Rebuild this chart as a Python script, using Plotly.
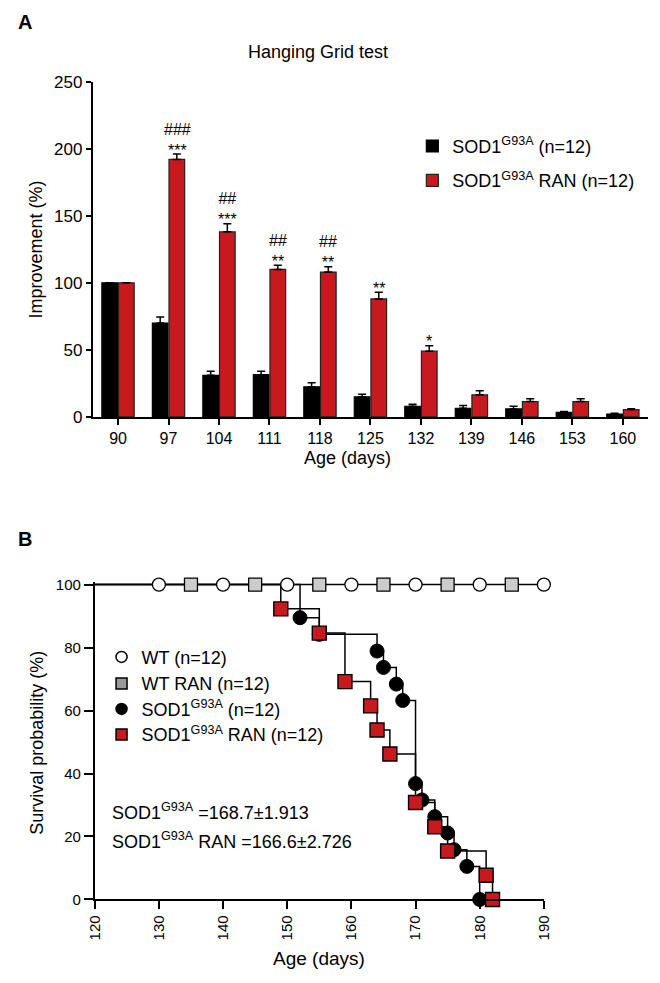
import plotly.graph_objects as go

W, H = 660, 983
FONT = "Liberation Sans, Arial, sans-serif"
RED = "#C8191E"

# ---------------- Panel A data (Hanging grid test) ----------------
ages = ["90", "97", "104", "111", "118", "125", "132", "139", "146", "153", "160"]
sod_mean = [100, 70, 31, 31.5, 22.5, 15, 8, 6.5, 6, 3.5, 2.2]
sod_err = [0, 4.5, 3, 2.5, 3, 2, 1.5, 2, 2, 0.5, 0.5]
ran_mean = [100, 192, 138, 110, 108, 88, 49, 16.5, 11.5, 11.5, 5.5]
ran_err = [0, 4, 6, 3, 4, 5, 4, 3, 2, 2, 0.7]
stars = ["", "***", "***", "**", "**", "**", "*", "", "", "", ""]
hashes = ["", "###", "##", "##", "##", "", "", "", "", "", ""]

# ---------------- Panel B data (Kaplan-Meier survival) ----------------
study_start = 120
wt_censor = [130, 140, 150, 160, 170, 180, 190]
wt_censor_surv = [100, 100, 100, 100, 100, 100, 100]
wtran_censor = [135, 145, 155, 165, 175, 185]
wtran_censor_surv = [100, 100, 100, 100, 100, 100]
sod_days = [152, 155, 164, 165, 167, 168, 170, 171, 173, 175, 176, 178, 180]
sod_surv = [89.5, 84.2, 78.9, 73.7, 68.4, 63.2, 36.8, 31.6, 26.3, 21.1, 15.8, 10.5, 0]
ran_days = [149, 155, 159, 163, 164, 166, 170, 173, 175, 181, 182]
ran_surv = [92.3, 84.6, 69.2, 61.5, 53.8, 46.2, 30.8, 23.1, 15.4, 7.7, 0]


def px(x):
    return x / W


def py(y):
    return 1 - y / H


fig = go.Figure()

# ---- Panel A bars ----
fig.add_trace(go.Bar(
    x=ages, y=sod_mean, name="SOD1<sup>G93A</sup> (n=12)",
    marker=dict(color="black", line=dict(color="black", width=1.2)),
    error_y=dict(type="data", symmetric=False, array=sod_err,
                 arrayminus=[0] * len(sod_err), color="black", thickness=1.5, width=4),
    xaxis="x", yaxis="y", legend="legend",
))
fig.add_trace(go.Bar(
    x=ages, y=ran_mean, name="SOD1<sup>G93A</sup> RAN (n=12)",
    marker=dict(color=RED, line=dict(color="#222222", width=1.2)),
    error_y=dict(type="data", symmetric=False, array=ran_err,
                 arrayminus=[0] * len(ran_err), color="black", thickness=1.5, width=4),
    xaxis="x", yaxis="y", legend="legend2",
))

# ---- Panel B survival ----
fig.add_trace(go.Scatter(
    x=[study_start] + wt_censor, y=[100] + wt_censor_surv, mode="lines",
    line=dict(color="black", width=1.5), showlegend=False, xaxis="x2", yaxis="y2",
))
fig.add_trace(go.Scatter(
    x=[study_start] + sod_days, y=[100] + sod_surv, mode="lines", line_shape="hv",
    line=dict(color="black", width=1.5), showlegend=False, xaxis="x2", yaxis="y2",
))
fig.add_trace(go.Scatter(
    x=[study_start] + ran_days, y=[100] + ran_surv, mode="lines", line_shape="hv",
    line=dict(color="black", width=1.5), showlegend=False, xaxis="x2", yaxis="y2",
))
fig.add_trace(go.Scatter(
    x=wt_censor, y=wt_censor_surv, mode="markers", cliponaxis=False,
    marker=dict(symbol="circle", size=13, color="white", line=dict(color="black", width=1.3)),
    showlegend=False, xaxis="x2", yaxis="y2",
))
fig.add_trace(go.Scatter(
    x=wtran_censor, y=wtran_censor_surv, mode="markers", cliponaxis=False,
    marker=dict(symbol="square", size=13, color="#CCCCCC", line=dict(color="black", width=1.3)),
    showlegend=False, xaxis="x2", yaxis="y2",
))
fig.add_trace(go.Scatter(
    x=sod_days, y=sod_surv, mode="markers", cliponaxis=False,
    marker=dict(symbol="circle", size=14, color="black", line=dict(color="black", width=1)),
    showlegend=False, xaxis="x2", yaxis="y2",
))
fig.add_trace(go.Scatter(
    x=ran_days, y=ran_surv, mode="markers", cliponaxis=False,
    marker=dict(symbol="square", size=14, color=RED, line=dict(color="black", width=1.4)),
    showlegend=False, xaxis="x2", yaxis="y2",
))

# legend-only entries for panel B
leg_entries = [
    ("WT (n=12)", "circle", "white", "legend3"),
    ("WT RAN (n=12)", "square", "#999999", "legend4"),
    ("SOD1<sup>G93A</sup> (n=12)", "circle", "black", "legend5"),
    ("SOD1<sup>G93A</sup> RAN (n=12)", "square", RED, "legend6"),
]
for name, sym, col, lg in leg_entries:
    fig.add_trace(go.Scatter(
        x=[None], y=[None], mode="markers", name=name,
        marker=dict(symbol=sym, size=11, color=col, line=dict(color="black", width=1.5)),
        xaxis="x2", yaxis="y2", legend=lg,
    ))

axis_common = dict(
    showline=True, linecolor="black", linewidth=2, ticks="outside",
    ticklen=6, tickwidth=2, tickcolor="black", showgrid=False, zeroline=False,
    tickfont=dict(family=FONT, size=16, color="black"),
)

leg_font = dict(family=FONT, size=18, color="black")


def leg(x, y):
    return dict(x=px(x), y=py(y), xanchor="left", yanchor="middle",
                bgcolor="rgba(0,0,0,0)", font=leg_font, itemclick=False)


fig.update_layout(
    width=W, height=H, margin=dict(l=0, r=0, t=0, b=0),
    paper_bgcolor="white", plot_bgcolor="white",
    font=dict(family=FONT, size=16, color="black"),
    barmode="group", bargap=0.34, bargroupgap=0.06,
    xaxis=dict(axis_common, domain=[px(86), px(656)], anchor="y", type="category",
               range=[-0.5, 10.5], ticklen=6),
    yaxis=dict(axis_common, domain=[py(416), py(74)], anchor="x", range=[0, 250],
               tickvals=[0, 50, 100, 150, 200, 250], ticklen=5,
               tickfont=dict(family=FONT, size=17, color="black")),
    xaxis2=dict(axis_common, domain=[px(88), px(549)], anchor="y2", range=[120, 190],
                tickvals=[120, 130, 140, 150, 160, 170, 180, 190], tickangle=-90,
                linewidth=1.8, tickwidth=1.8, ticklen=8,
                tickfont=dict(family=FONT, size=15, color="black")),
    yaxis2=dict(axis_common, domain=[py(908), py(584.4)], anchor="x2", range=[0, 100.8],
                tickvals=[0, 20, 40, 60, 80, 100], linewidth=1.8, tickwidth=1.8, ticklen=9,
                tickfont=dict(family=FONT, size=15, color="black")),
    legend=leg(414, 140),
    legend2=leg(414, 175),
    legend3=leg(95, 661),
    legend4=leg(95, 688),
    legend5=leg(95, 714),
    legend6=leg(95, 740),
)

ann = []
# panel labels and titles
ann.append(dict(text="<b>A</b>", x=px(7), y=py(13), xanchor="left", yanchor="middle",
                font=dict(family=FONT, size=20)))
ann.append(dict(text="<b>B</b>", x=px(7), y=py(540), xanchor="left", yanchor="middle",
                font=dict(family=FONT, size=20)))
ann.append(dict(text="Hanging Grid test", x=px(317), y=py(44), xanchor="center",
                yanchor="middle", font=dict(family=FONT, size=18)))
ann.append(dict(text="Improvement (%)", x=px(28), y=py(245), textangle=-90,
                xanchor="center", yanchor="middle", font=dict(family=FONT, size=18)))
ann.append(dict(text="Age (days)", x=px(347), y=py(458), xanchor="center",
                yanchor="middle", font=dict(family=FONT, size=18)))
ann.append(dict(text="Survival probability (%)", x=px(28), y=py(748), textangle=-90,
                xanchor="center", yanchor="middle", font=dict(family=FONT, size=18)))
ann.append(dict(text="Age (days)", x=px(318), y=py(968), xanchor="center",
                yanchor="middle", font=dict(family=FONT, size=19)))
ann.append(dict(text="SOD1<sup>G93A</sup> =168.7±1.913", x=px(104), y=py(818),
                xanchor="left", yanchor="middle", font=dict(family=FONT, size=18)))
ann.append(dict(text="SOD1<sup>G93A</sup> RAN =166.6±2.726", x=px(104), y=py(848),
                xanchor="left", yanchor="middle", font=dict(family=FONT, size=18)))
for a in ann:
    a.update(xref="paper", yref="paper", showarrow=False)

# significance marks above red bars (x given as category index);
# "#" and "*" marks of the same bar share one two-line text
for i, cat in enumerate(ages):
    top = ran_mean[i] + ran_err[i]
    if hashes[i] and stars[i]:
        ann.append(dict(text=hashes[i] + "<br>" + stars[i], x=i, y=top, xref="x", yref="y",
                        xshift=8.5, yshift=14.5, xanchor="center", yanchor="middle",
                        showarrow=False, font=dict(family=FONT, size=16)))
    elif stars[i]:
        ann.append(dict(text=stars[i], x=i, y=top, xref="x", yref="y", xshift=8.5,
                        yshift=4, xanchor="center", yanchor="middle", showarrow=False,
                        font=dict(family=FONT, size=16)))

fig.update_layout(annotations=ann)
fig.write_html("out.html", config={"displayModeBar": False},
               post_script="document.body.style.margin='0px';")
